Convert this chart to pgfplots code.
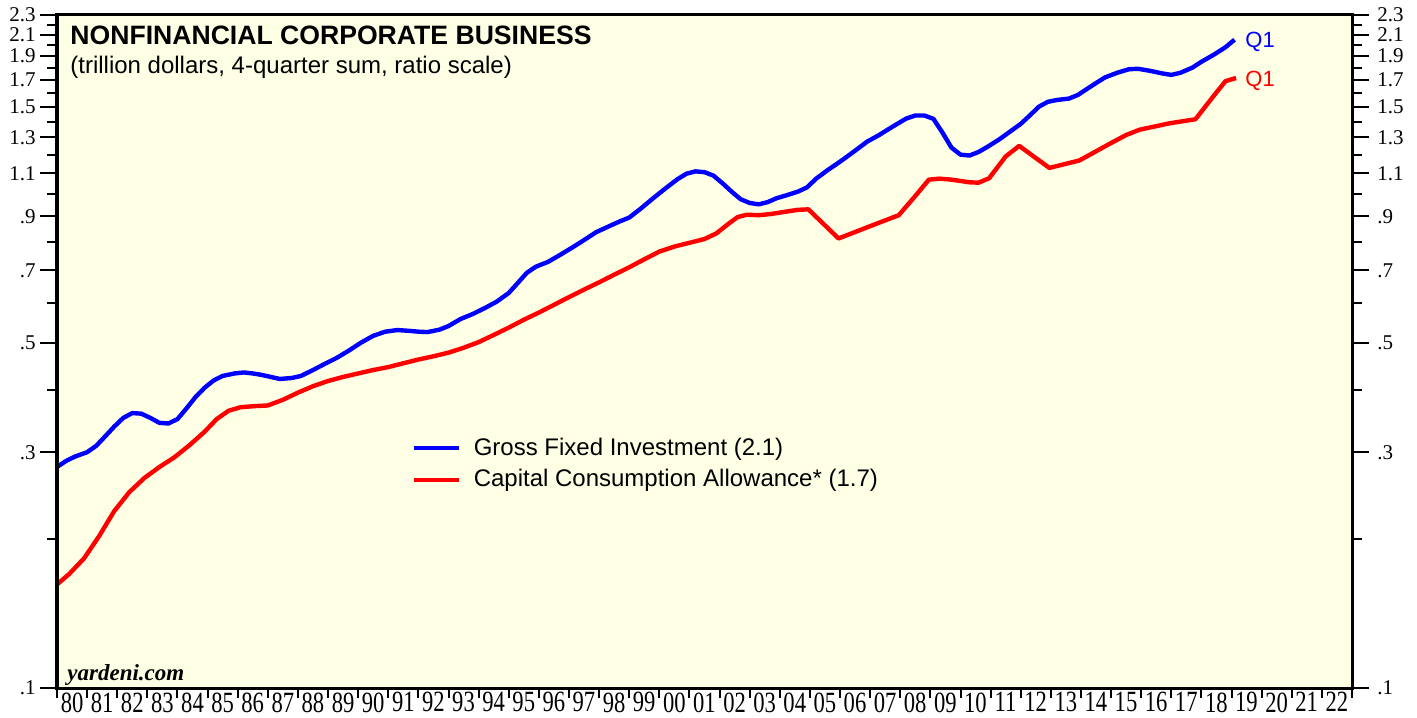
\documentclass[border=0pt]{standalone}
\usepackage{pgfplots}
\pgfplotsset{compat=1.18}
\usepackage{fontspec}
\setmainfont{Liberation Sans}
\newfontfamily\serif{Liberation Serif}
\definecolor{bg}{RGB}{255,255,230}
\begin{document}
\begin{tikzpicture}
\useasboundingbox (0,0) rectangle (708.5pt,358.5pt);
\begin{axis}[
  at={(28.5pt,14.5pt)}, anchor=south west,
  scale only axis, width=647.5pt, height=336.5pt,
  xmin=1980, xmax=2023, ymode=log, ymin=0.1, ymax=2.3,
  axis line style={line width=1.5pt},
  tick align=outside,
  major tick length=8.5pt, minor tick length=5pt,
  every tick/.style={black, line width=1pt},
  ytick={0.1,0.3,0.5,0.7,0.9,1.1,1.3,1.5,1.7,1.9,2.1,2.3},
  yticklabels={.1,.3,.5,.7,.9,1.1,1.3,1.5,1.7,1.9,2.1,2.3},
  minor ytick={0.2,0.4,0.6,0.8,1.0,1.2,1.4,1.6,1.8,2.0,2.2},
  yticklabel style={font=\serif\fontsize{10.5}{10.5}\selectfont, inner sep=2pt},
  axis background/.style={fill=bg},
  xtick={1980.5,1981.5,...,2022.5},
  xticklabels={80,81,82,83,84,85,86,87,88,89,90,91,92,93,94,95,96,97,98,99,00,01,02,03,04,05,06,07,08,09,10,11,12,13,14,15,16,17,18,19,20,21,22},
  minor xtick={1980,1981,...,2023},
  every major x tick/.append style={draw=none},
  xtick pos=left, ytick pos=left,
  xticklabel style={font=\serif\fontsize{11.3}{11.3}\selectfont, yscale=1.3, inner sep=0pt, anchor=north, yshift=5pt},
  legend style={at={(0.2735,0.378)}, anchor=north west, draw=none, fill=none,
    font=\fontsize{12}{14}\selectfont, row sep=1.5pt, inner sep=0pt},
  legend cell align=left,
  legend image code/.code={\draw[#1, line width=2pt] (0pt,0pt) -- (22.5pt,0pt); \path (27pt,0pt);},
]
\addplot[blue, line width=2.2pt, line join=round] coordinates {
(1980.0,0.280) (1980.3,0.288) (1980.6,0.294) (1981.0,0.300) (1981.3,0.309) (1981.6,0.323)
(1981.9,0.338) (1982.2,0.352) (1982.5,0.360) (1982.8,0.359) (1983.1,0.352) (1983.4,0.344)
(1983.7,0.343) (1984.0,0.350) (1984.3,0.368) (1984.6,0.388) (1984.9,0.405) (1985.2,0.419)
(1985.5,0.428) (1985.9,0.433) (1986.2,0.435) (1986.5,0.433) (1986.8,0.430) (1987.1,0.426)
(1987.4,0.422) (1987.8,0.424) (1988.1,0.428) (1988.5,0.440) (1988.9,0.453) (1989.3,0.466)
(1989.7,0.482) (1990.1,0.500) (1990.5,0.516) (1990.9,0.526) (1991.3,0.530) (1991.7,0.528)
(1992.0,0.526) (1992.3,0.525) (1992.7,0.531) (1993.0,0.540) (1993.4,0.558) (1993.8,0.571)
(1994.2,0.587) (1994.6,0.605) (1995.0,0.630) (1995.3,0.660) (1995.6,0.692) (1995.9,0.712)
(1996.3,0.728) (1996.7,0.752) (1997.1,0.778) (1997.5,0.806) (1997.9,0.836) (1998.3,0.858)
(1998.7,0.880) (1999.0,0.895) (1999.4,0.935) (1999.8,0.980) (2000.2,1.025) (2000.6,1.070)
(2000.9,1.098) (2001.2,1.110) (2001.5,1.106) (2001.8,1.088) (2002.1,1.050) (2002.4,1.010)
(2002.7,0.975) (2003.0,0.958) (2003.3,0.952) (2003.6,0.962) (2003.9,0.980) (2004.2,0.992)
(2004.6,1.010) (2004.9,1.030) (2005.2,1.072) (2005.6,1.118) (2005.9,1.150) (2006.2,1.185)
(2006.6,1.235) (2006.9,1.275) (2007.3,1.315) (2007.6,1.350) (2007.9,1.385) (2008.2,1.420)
(2008.5,1.440) (2008.8,1.440) (2009.1,1.418) (2009.4,1.330) (2009.7,1.240) (2010.0,1.200)
(2010.3,1.195) (2010.6,1.215) (2010.9,1.245) (2011.3,1.290) (2011.6,1.330) (2012.0,1.385)
(2012.3,1.440) (2012.6,1.500) (2012.9,1.535) (2013.2,1.548) (2013.6,1.558) (2013.9,1.585)
(2014.2,1.630) (2014.5,1.675) (2014.8,1.720) (2015.2,1.757) (2015.6,1.787) (2015.9,1.790)
(2016.3,1.773) (2016.7,1.752) (2017.0,1.740) (2017.3,1.757) (2017.7,1.800) (2018.0,1.850)
(2018.4,1.910) (2018.8,1.980) (2019.1,2.050)
};
\addlegendentry{Gross Fixed Investment (2.1)}
\addplot[red, line width=2.2pt, line join=round] coordinates {
(1980.0,0.162) (1980.4,0.170) (1980.9,0.183) (1981.4,0.203) (1981.9,0.228) (1982.4,0.249)
(1982.9,0.266) (1983.4,0.280) (1983.9,0.293) (1984.4,0.310) (1984.9,0.330) (1985.3,0.350)
(1985.7,0.364) (1986.1,0.370) (1986.6,0.372) (1987.0,0.373) (1987.5,0.383) (1988.0,0.396)
(1988.5,0.408) (1989.0,0.418) (1989.5,0.426) (1990.0,0.433) (1990.5,0.440) (1991.0,0.446)
(1991.5,0.454) (1992.0,0.462) (1992.5,0.469) (1993.0,0.477) (1993.5,0.488) (1994.0,0.501)
(1994.5,0.518) (1995.0,0.536) (1995.5,0.556) (1996.0,0.575) (1996.5,0.596) (1997.0,0.618)
(1997.5,0.640) (1998.0,0.662) (1998.5,0.686) (1999.0,0.710) (1999.5,0.737) (2000.0,0.764)
(2000.5,0.782) (2001.0,0.796) (2001.5,0.810) (2001.9,0.832) (2002.3,0.870) (2002.6,0.897)
(2002.9,0.907) (2003.3,0.905) (2003.7,0.910) (2004.2,0.920) (2004.6,0.928) (2004.95,0.930)
(2005.95,0.812) (2007.0,0.860) (2007.95,0.905) (2008.5,0.990) (2008.95,1.068) (2009.3,1.073)
(2009.7,1.068) (2010.3,1.055) (2010.6,1.053) (2010.95,1.075) (2011.5,1.190) (2011.95,1.250)
(2012.95,1.128) (2013.95,1.168) (2014.95,1.262) (2015.5,1.315) (2015.95,1.348) (2016.95,1.389)
(2017.8,1.415) (2018.45,1.590) (2018.8,1.690) (2019.15,1.715)
};
\addlegendentry{Capital Consumption Allowance* (1.7)}
\end{axis}
\begin{axis}[
  at={(28.5pt,14.5pt)}, anchor=south west,
  scale only axis, width=647.5pt, height=336.5pt,
  xmin=1980, xmax=2023, ymode=log, ymin=0.1, ymax=2.3,
  axis line style={line width=1.5pt},
  tick align=outside,
  major tick length=8.5pt, minor tick length=5pt,
  every tick/.style={black, line width=1pt},
  ytick={0.1,0.3,0.5,0.7,0.9,1.1,1.3,1.5,1.7,1.9,2.1,2.3},
  yticklabels={.1,.3,.5,.7,.9,1.1,1.3,1.5,1.7,1.9,2.1,2.3},
  minor ytick={0.2,0.4,0.6,0.8,1.0,1.2,1.4,1.6,1.8,2.0,2.2},
  yticklabel style={font=\serif\fontsize{10.5}{10.5}\selectfont, inner sep=2pt, xshift=2pt},
  xtick=\empty,
  ytick pos=right, yticklabel pos=right,
]
\end{axis}
\node[anchor=base west, font=\bfseries\fontsize{13.3}{14}\selectfont, inner sep=0pt] at (35pt,336pt) {NONFINANCIAL CORPORATE BUSINESS};
\node[anchor=base west, font=\fontsize{12}{14}\selectfont, inner sep=0pt] at (35pt,321.5pt) {(trillion dollars, 4-quarter sum, ratio scale)};
\node[anchor=base west, font=\serif\bfseries\itshape\fontsize{11.5}{12}\selectfont, inner sep=0pt] at (33.5pt,18.5pt) {yardeni.com};
\node[anchor=base west, text=blue, font=\fontsize{11}{12}\selectfont, inner sep=0pt] at (622.5pt,334.5pt) {Q1};
\node[anchor=base west, text=red, font=\fontsize{11}{12}\selectfont, inner sep=0pt] at (622.5pt,315pt) {Q1};
\end{tikzpicture}
\end{document}
